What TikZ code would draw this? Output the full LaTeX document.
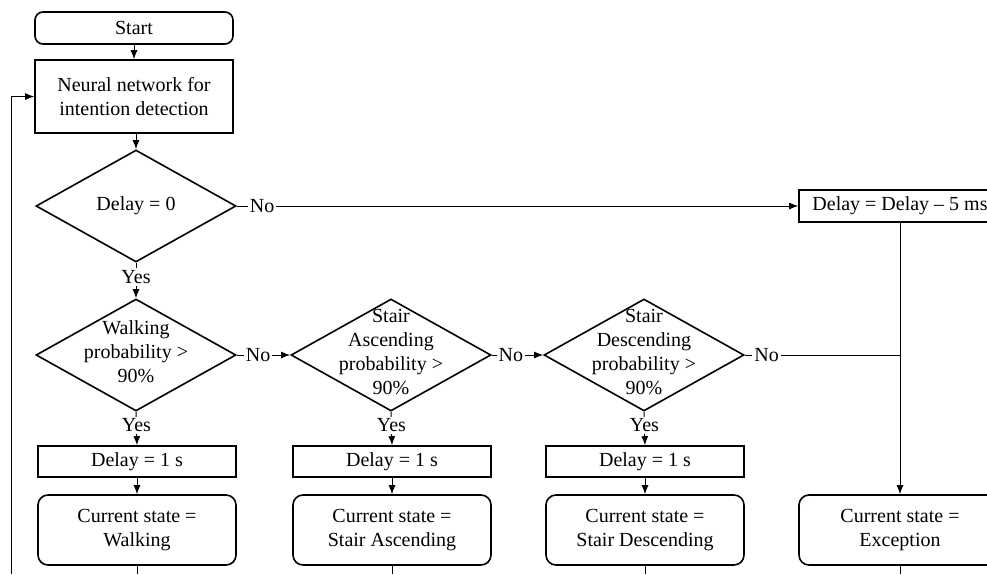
\documentclass[tikz,border=0pt]{standalone}
\usepackage{fontspec}
\setmainfont{Liberation Serif}
\usetikzlibrary{arrows.meta,shapes.geometric}
\newcommand{\dtxt}[1]{\smash{\raisebox{-2pt}{\begin{tabular}{@{}c@{}}#1\end{tabular}}}}

\begin{document}
\begin{tikzpicture}[
  x=.5pt, y=-.5pt,
  font=\fontsize{10pt}{12pt}\selectfont, >={Latex[length=4.5pt,width=3.5pt]},
  box/.style={draw,line width=.8pt,minimum width=99pt,align=center,inner sep=2pt},
  term/.style={box,rounded corners=5pt},
  proc/.style={box},
  dec/.style={draw,diamond,line width=.8pt,minimum width=100pt,minimum height=56pt,inner sep=0pt},
  arr/.style={->,line width=.5pt},
  conn/.style={line width=.5pt},
  lbl/.style={fill=white,inner sep=1pt}
]
\useasboundingbox (0,0) rectangle (987,574);
\clip (0,0) rectangle (987,574);

\node[term,minimum height=16pt,rounded corners=4pt] (start) at (134,28) {Start};
\node[proc,minimum height=36.5pt] (nn) at (134,96.5) {Neural network for\\intention detection};
\node[dec] (d0) at (136,206) {Delay = 0};

\node[dec] (d1) at (136,355) {\dtxt{Walking\\probability >\\90\%}};
\node[dec] (d2) at (391,355) {\dtxt{Stair\\Ascending\\probability >\\90\%}};
\node[dec] (d3) at (644,355) {\dtxt{Stair\\Descending\\probability >\\90\%}};

\node[proc,minimum height=15.5pt] (w1) at (137,461.5) {Delay = 1 s};
\node[proc,minimum height=15.5pt] (w2) at (392,461.5) {Delay = 1 s};
\node[proc,minimum height=15.5pt] (w3) at (645,461.5) {Delay = 1 s};
\node[proc,minimum width=101pt,minimum height=16pt] (dec5) at (900,206) {Delay = Delay – 5 ms};

\node[term,minimum height=35pt] (s1) at (137,530) {Current state =\\Walking};
\node[term,minimum height=35pt] (s2) at (392,530) {Current state =\\Stair Ascending};
\node[term,minimum height=35pt] (s3) at (645,530) {Current state =\\Stair Descending};
\node[term,minimum width=101pt,minimum height=35pt] (sx) at (900,530) {Current state =\\Exception};

\coordinate (back) at (11,574);

\draw[arr] (start) -- (nn);
\draw[arr] (nn.south -| d0.north) -- (d0.north);
\draw[arr] (d0.east) -- node[lbl,pos=.045]{No} (dec5.west);
\draw[arr] (d0.south) -- node[lbl,pos=.4]{Yes} (d1.north);

\draw[arr] (d1.east) -- node[lbl,pos=.4]{No} (d2.west);
\draw[arr] (d2.east) -- node[lbl,pos=.37]{No} (d3.west);
\draw[conn] (d3.east) -- node[lbl,pos=.14]{No} (d3 -| dec5);
\draw[arr] (dec5.south) -- (sx.north);

\draw[arr] (d1.south) -- node[lbl,pos=.4]{Yes} (w1.north);
\draw[arr] (d2.south) -- node[lbl,pos=.4]{Yes} (w2.north);
\draw[arr] (d3.south) -- node[lbl,pos=.4]{Yes} (w3.north);
\draw[arr] (w1) -- (s1);
\draw[arr] (w2) -- (s2);
\draw[arr] (w3) -- (s3);

\draw[conn] (s1.south) -- (s1.south |- back);
\draw[conn] (s2.south) -- (s2.south |- back);
\draw[conn] (s3.south) -- (s3.south |- back);
\draw[conn] (sx.south) -- (sx.south |- back);
\draw[arr] (back) |- (nn.west);
\end{tikzpicture}
\end{document}
